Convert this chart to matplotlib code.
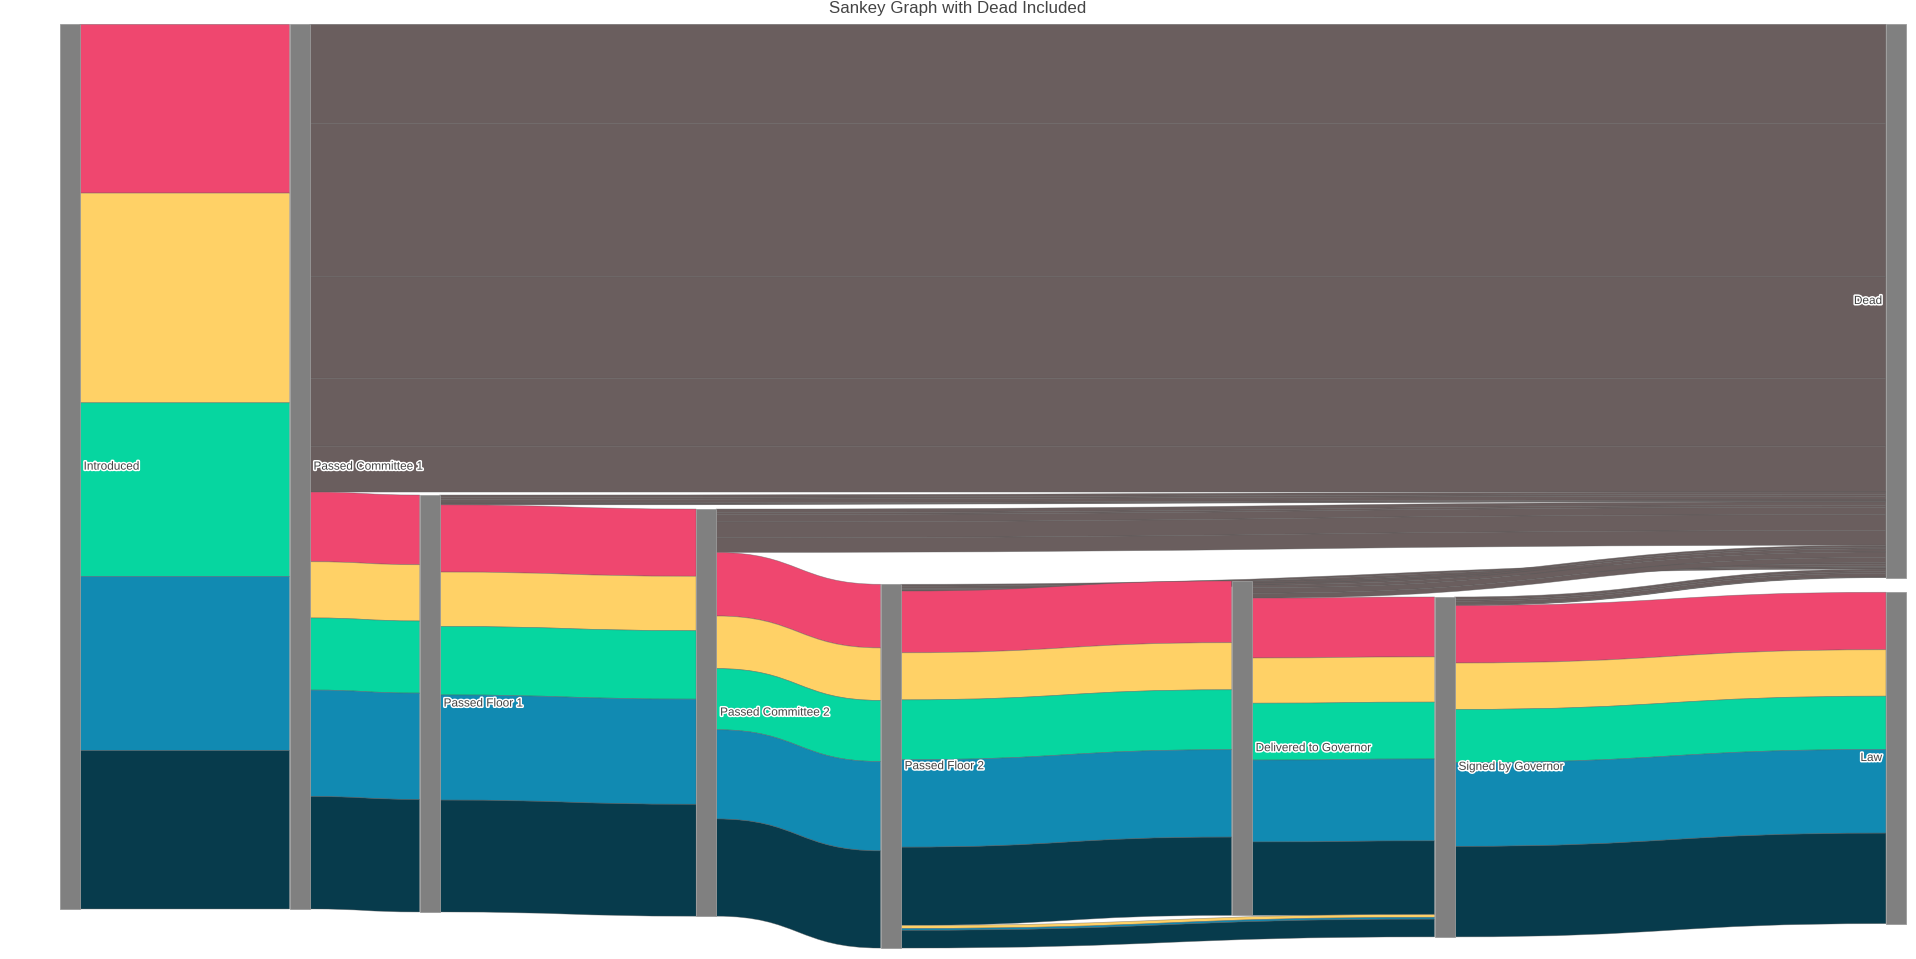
import matplotlib
matplotlib.use('Agg')
import matplotlib.pyplot as plt
import matplotlib.patheffects as pe
from matplotlib.path import Path
from matplotlib.patches import PathPatch, Rectangle
from matplotlib import font_manager

# node names, in the order used by the link lists below
stages = ['Introduced', 'Passed Committee 1', 'Passed Floor 1', 'Passed Committee 2',
          'Passed Floor 2', 'Delivered to Governor', 'Signed by Governor', 'Law', 'Dead']
INTRO, PC1, PF1, PC2, PF2, DTG, SBG, LAW, DEAD = range(9)

cat_colors = ['#EF476F', '#FFD166', '#06D6A0', '#118AB2', '#073B4C']
dead_color = '#6A5E5E'

# number of bills per category along each step
intro_pc1 = [276, 343, 284, 285, 259]
pc1_pf1 = [114, 92, 118, 174, 184]
pc1_dead = [162, 251, 166, 111, 75]
pf1_pc2 = [110, 89, 112, 172, 183]
pf1_dead = [4, 3, 6, 2, 1]
pc2_pf2 = [104, 86, 100, 146, 159]
pc2_dead = [6, 3, 12, 26, 24]
pf2_dtg = [101, 77, 98, 143, 128]
pf2_sbg = [0, 5, 0, 3, 29]
pf2_dead = [3, 4, 2, 0, 2]
dtg_sbg = [98, 74, 93, 134, 120]
dtg_dead = [3, 3, 5, 9, 8]
sbg_law = [94, 76, 87, 137, 148]
sbg_dead = [4, 3, 6, 0, 1]

# node arrangement (fractions of the figure), like plotly's node.x / node.y
node_x = [0.0311, 0.1511, 0.2190, 0.3633, 0.4596, 0.6428, 0.7487, 0.9843, 0.9843]
node_y = [0.0254, 0.0254, 0.5162, 0.5308, 0.6093, 0.6058, 0.6225, 0.6176, 0.0254]

W, H = 1916, 959
node_w = 20
px_per_bill = 884.6 / sum(intro_pc1)

steps = [
    (INTRO, PC1, intro_pc1, False),
    (PC1, DEAD, pc1_dead, True),
    (PC1, PF1, pc1_pf1, False),
    (PF1, DEAD, pf1_dead, True),
    (PF1, PC2, pf1_pc2, False),
    (PC2, DEAD, pc2_dead, True),
    (PC2, PF2, pc2_pf2, False),
    (PF2, DEAD, pf2_dead, True),
    (PF2, DTG, pf2_dtg, False),
    (PF2, SBG, pf2_sbg, False),
    (DTG, DEAD, dtg_dead, True),
    (DTG, SBG, dtg_sbg, False),
    (SBG, DEAD, sbg_dead, True),
    (SBG, LAW, sbg_law, False),
]

links = []
for src, tgt, vals, dead in steps:
    for c, v in enumerate(vals):
        if v > 0:
            links.append(dict(src=src, tgt=tgt, v=v,
                              color=dead_color if dead else cat_colors[c]))

x0 = [f * W for f in node_x]
top = [f * H for f in node_y]
n_in = [0] * len(stages)
n_out = [0] * len(stages)
for i, l in enumerate(links):
    l['i'] = i
    n_out[l['src']] += l['v']
    n_in[l['tgt']] += l['v']
node_h = [max(a, b) * px_per_bill for a, b in zip(n_in, n_out)]

# stack links inside each node (ordered by the other node's position, then index)
for n in range(len(stages)):
    y = top[n]
    for l in sorted([l for l in links if l['src'] == n], key=lambda l: (top[l['tgt']], l['i'])):
        l['sy'] = y
        y += l['v'] * px_per_bill
    y = top[n]
    for l in sorted([l for l in links if l['tgt'] == n], key=lambda l: (top[l['src']], l['i'])):
        l['ty'] = y
        y += l['v'] * px_per_bill

label_font, label_size = 'Liberation Sans', 8.5
names = {f.name for f in font_manager.fontManager.ttflist}
if 'Liberation Sans Narrow' in names:
    label_font, label_size = 'Liberation Sans Narrow', 10.0

fig = plt.figure(figsize=(W / 100, H / 100), dpi=100)
ax = fig.add_axes([0, 0, 1, 1])
ax.set_xlim(0, W)
ax.set_ylim(H, 0)
ax.axis('off')

for l in links:
    xa = x0[l['src']] + node_w
    xb = x0[l['tgt']]
    xm = (xa + xb) / 2
    w = l['v'] * px_per_bill
    ya, yb = l['sy'], l['ty']
    verts = [(xa, ya), (xm, ya), (xm, yb), (xb, yb),
             (xb, yb + w), (xm, yb + w), (xm, ya + w), (xa, ya + w), (xa, ya)]
    codes = [Path.MOVETO, Path.CURVE4, Path.CURVE4, Path.CURVE4,
             Path.LINETO, Path.CURVE4, Path.CURVE4, Path.CURVE4, Path.CLOSEPOLY]
    ax.add_patch(PathPatch(Path(verts, codes), facecolor=l['color'],
                           edgecolor=(0.35, 0.35, 0.35, 0.5), lw=0.5))

for n, name in enumerate(stages):
    ax.add_patch(Rectangle((x0[n], top[n]), node_w, node_h[n],
                           facecolor='#808080', edgecolor='#9a9a9a', lw=0.6))
    last = node_x[n] > 0.9
    tx = x0[n] - 4 if last else x0[n] + node_w + 4
    ax.text(tx, top[n] + node_h[n] / 2, name, ha='right' if last else 'left', va='center',
            fontsize=label_size, family=label_font, color='#444444',
            path_effects=[pe.withStroke(linewidth=2.2, foreground='white')])

fig.text(0.5, 1 - 8.5 / H, 'Sankey Graph with Dead Included', ha='center', va='center',
         fontsize=12.2, family='Liberation Sans', color='#444444')

fig.savefig('out.png', dpi=100)
